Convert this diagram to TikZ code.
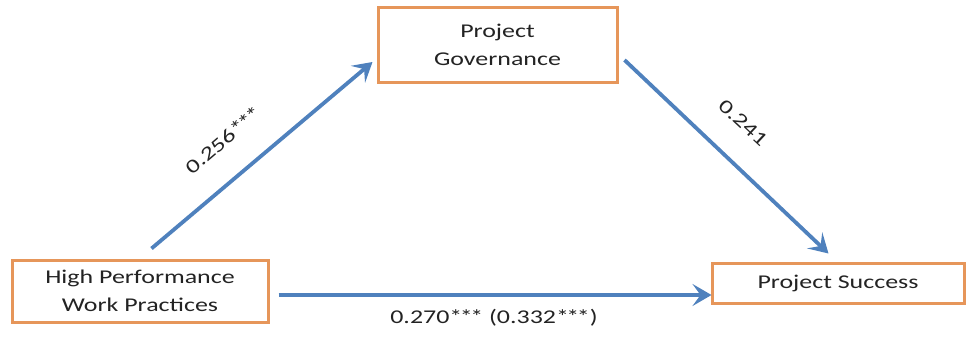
\documentclass[tikz,border=0pt]{standalone}
\usepackage{fontspec}
\setmainfont{Carlito}[FakeStretch=1.33]
\usetikzlibrary{arrows.meta,calc}
\definecolor{boxorange}{RGB}{230,150,90}
\definecolor{arrowblue}{RGB}{79,129,189}
\definecolor{txt}{RGB}{35,35,35}
\newcommand{\stars}{*\kern-2.5pt*\kern-2.5pt*}
\tikzset{
  varbox/.style={draw=boxorange, line width=3pt, fill=white, align=center, text=txt,
    font=\fontsize{19.5}{28}\selectfont, inner sep=0pt},
  path arrow/.style={draw=arrowblue, line width=3.8pt,
    -{Stealth[length=19pt,width=22pt,inset=8pt]}},
  coef/.style={text=txt, font=\fontsize{19.5}{24}\selectfont, inner sep=0pt}
}
\begin{document}
\begin{tikzpicture}[x=1pt,y=-1pt]
\useasboundingbox (0,0) rectangle (968,337);
\node[varbox, minimum width=239pt, minimum height=74pt] (pg) at (497.5,45) {Project\\Governance};
\node[varbox, minimum width=256pt, minimum height=62pt] (hpwp) at (140,291) {High Performance\\Work Practices};
\node[varbox, minimum width=252pt, minimum height=40pt] (ps) at (838,283) {Project Success};
\coordinate (a1s) at ($(hpwp.north west)+(141,-10)$);
\coordinate (a1e) at ($(pg.west)+(-4,17)$);
\coordinate (a2s) at ($(pg.east)+(6,15)$);
\coordinate (a2e) at ($(ps.north west)+(118,-8)$);
\coordinate (a3s) at ($(hpwp.east)+(9,4)$);
\coordinate (a3e) at ($(ps.west)+(1,12)$);
\draw[path arrow] (a1s) -- (a1e);
\draw[path arrow] (a2s) -- (a2e);
\draw[path arrow] (a3s) -- (a3e);
\node[coef, rotate=40.5] (c1) at (223,140) {0.256\stars};
\node[coef, rotate=-43] (c2) at (743,123) {0.241};
\node[coef] (c3) at (494,318) {0.270\stars\ (0.332\stars)};
\end{tikzpicture}
\end{document}
